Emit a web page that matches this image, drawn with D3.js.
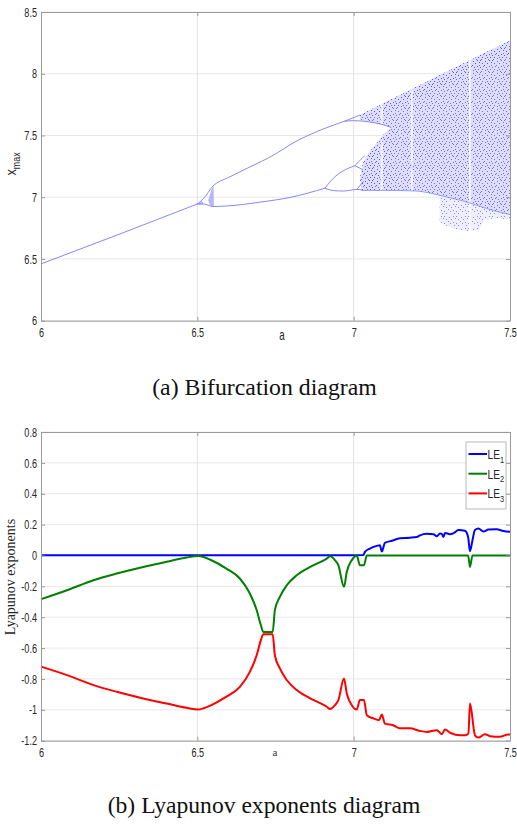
<!DOCTYPE html>
<html><head><meta charset="utf-8">
<script src="https://cdn.jsdelivr.net/npm/d3@7"></script>
<style>
body{margin:0;background:#fff;}
.tk text{font-family:"Liberation Sans",Arial,sans-serif;font-size:13px;fill:#262626;}
</style></head><body>
<svg id="c" width="517" height="825" xmlns="http://www.w3.org/2000/svg"></svg>
<script>
// ---------- DATA ----------
const aTicks = [6, 6.5, 7, 7.5];
const xmaxTicks = [6, 6.5, 7, 7.5, 8, 8.5];
const leTicks = [0.8, 0.6, 0.4, 0.2, 0, -0.2, -0.4, -0.6, -0.8, -1, -1.2];

// bifurcation: periodic branches [a, xmax]
const branchP1 = [[6, 6.46], [6.25, 6.70], [6.5, 6.945]];
const branchUpper = [[6.5, 6.945], [6.52, 6.99], [6.55, 7.09], [6.6, 7.16], [6.66, 7.235], [6.75, 7.35], [6.8, 7.43], [6.9, 7.55], [6.97, 7.615], [7.02, 7.665]];
const branchLower = [[6.5, 6.945], [6.52, 6.945], [6.55, 6.925], [6.6, 6.93], [6.7, 6.96], [6.8, 7.0], [6.908, 7.073]];
const branchP4Up = [[6.908, 7.073], [6.935, 7.16], [6.967, 7.22], [7.004, 7.255]];
const branchP4Lo = [[6.908, 7.073], [6.935, 7.054], [6.967, 7.05], [7.01, 7.063], [7.03, 7.058]];
const branchP8a = [[7.004, 7.255], [7.02, 7.30], [7.035, 7.335]];
const branchP8b = [[7.004, 7.255], [7.02, 7.235], [7.03, 7.22]];
const branchP8c = [[7.01, 7.063], [7.022, 7.10], [7.032, 7.13]];
const lensRight = [[6.97, 7.615], [7.0, 7.62], [7.05, 7.61], [7.09, 7.59], [7.12, 7.565]];
const smallChaos = [[6.535, 6.975], [6.545, 7.06], [6.552, 7.09], [6.553, 6.925], [6.54, 6.935]];
const smallChaos2 = [[6.495, 6.94], [6.515, 6.97], [6.52, 6.945]];
// chaotic region outlines
const chaosTop = [[7.02, 7.665], [7.05, 7.705], [7.1, 7.77], [7.2, 7.895], [7.3, 8.02], [7.4, 8.145], [7.5, 8.27]];
const chaosBottom = [[7.5, 6.86], [7.45, 6.89], [7.4, 6.93], [7.35, 6.97], [7.3, 7.0], [7.25, 7.03], [7.2, 7.05], [7.1, 7.055], [7.025, 7.055]];
const chaosLeft = [[7.025, 7.055], [7.02, 7.15], [7.03, 7.28], [7.05, 7.37], [7.08, 7.46], [7.1, 7.52], [7.12, 7.565], [7.09, 7.59], [7.05, 7.61], [7.02, 7.625]];
const topBandLow = [[7.5, 8.15], [7.4, 8.04], [7.3, 7.93], [7.2, 7.81], [7.1, 7.69], [7.05, 7.65], [7.02, 7.64]];
const leftDense = [[7.025, 7.055], [7.02, 7.15], [7.03, 7.28], [7.05, 7.37], [7.08, 7.46], [7.1, 7.52], [7.12, 7.565], [7.12, 7.055]];
const lobe = [[7.275, 7.01], [7.275, 6.80], [7.3, 6.765], [7.33, 6.74], [7.36, 6.725], [7.4, 6.73], [7.41, 6.78], [7.42, 6.82], [7.46, 6.83], [7.5, 6.82], [7.5, 6.86], [7.45, 6.89], [7.4, 6.93], [7.35, 6.97], [7.3, 7.0]];
const windows = [7.09, 7.186, 7.372];

// Lyapunov exponents [a, value]
const le1 = [[6, 0.002], [6.5, 0.002], [7.0, 0.002], [7.031, 0.003], [7.036, 0.023], [7.052, 0.045], [7.074, 0.062], [7.084, 0.067], [7.09, 0.025], [7.1, 0.082], [7.122, 0.095], [7.148, 0.112], [7.18, 0.115], [7.202, 0.12], [7.212, 0.13], [7.234, 0.14], [7.255, 0.138], [7.266, 0.125], [7.276, 0.142], [7.282, 0.14], [7.287, 0.12], [7.292, 0.146], [7.308, 0.138], [7.32, 0.145], [7.335, 0.165], [7.356, 0.16], [7.366, 0.12], [7.372, 0.028], [7.378, 0.078], [7.388, 0.165], [7.399, 0.175], [7.415, 0.155], [7.431, 0.168], [7.457, 0.17], [7.479, 0.158], [7.5, 0.153]];
const le2 = [[6, -0.283], [6.083, -0.225], [6.168, -0.16], [6.242, -0.117], [6.327, -0.074], [6.402, -0.041], [6.466, -0.013], [6.503, -0.004], [6.52, -0.01], [6.54, -0.026], [6.593, -0.085], [6.636, -0.149], [6.668, -0.246], [6.69, -0.355], [6.703, -0.45], [6.711, -0.495], [6.741, -0.495], [6.748, -0.354], [6.764, -0.268], [6.786, -0.193], [6.818, -0.128], [6.861, -0.074], [6.914, -0.02], [6.925, -0.005], [6.94, -0.03], [6.951, -0.063], [6.969, -0.203], [6.978, -0.106], [6.994, -0.03], [7.01, -0.002], [7.02, -0.063], [7.033, -0.063], [7.042, 0], [7.366, 0], [7.372, -0.074], [7.38, 0], [7.5, 0]];
const le3 = [[6, -0.72], [6.083, -0.775], [6.168, -0.84], [6.242, -0.883], [6.327, -0.926], [6.402, -0.959], [6.466, -0.987], [6.503, -0.998], [6.52, -0.99], [6.54, -0.974], [6.593, -0.915], [6.636, -0.851], [6.668, -0.754], [6.69, -0.645], [6.703, -0.55], [6.711, -0.51], [6.741, -0.51], [6.748, -0.646], [6.764, -0.732], [6.786, -0.807], [6.818, -0.872], [6.861, -0.926], [6.914, -0.98], [6.925, -0.995], [6.94, -0.97], [6.951, -0.937], [6.969, -0.797], [6.978, -0.894], [6.994, -0.97], [7.01, -0.998], [7.02, -0.937], [7.033, -0.937], [7.042, -1.035], [7.065, -1.057], [7.081, -1.067], [7.09, -1.03], [7.1, -1.089], [7.126, -1.1], [7.148, -1.12], [7.18, -1.12], [7.212, -1.137], [7.234, -1.143], [7.266, -1.132], [7.282, -1.158], [7.292, -1.128], [7.31, -1.15], [7.34, -1.165], [7.356, -1.165], [7.367, -1.154], [7.372, -0.959], [7.388, -1.165], [7.399, -1.18], [7.42, -1.158], [7.436, -1.171], [7.468, -1.175], [7.494, -1.16], [7.5, -1.16]];
const leNames = ["1", "2", "3"];
const leColors = ["#0000ff", "#008000", "#ff0000"];

// ---------- DRAW ----------
const SX = 0.7; // horizontal squeeze of the narrow axis font
const svg = d3.select("#c");
const defs = svg.append("defs");
// speckle texture (style only)
const speckPts = [[0,0],[5,1],[9,0],[2,3],[7,3],[11,2],[4,5],[9,6],[0,7],[6,7],[2,9],[10,9],[5,10],[8,11],[1,11],[3,6],[11,5],[7,9]];
function speck(id, bg, dot, n, size, op) {
  const p = defs.append("pattern").attr("id", id).attr("patternUnits", "userSpaceOnUse").attr("width", size).attr("height", size);
  p.append("rect").attr("width", size).attr("height", size).attr("fill", bg);
  speckPts.slice(0, n).forEach(q => p.append("rect").attr("x", q[0]).attr("y", q[1]).attr("width", 1).attr("height", 1).attr("fill", dot).attr("opacity", op));
}
speck("spA", "#dedefc", "#5a5af0", 18, 12, 0.85);
speck("spB", "none", "#5050ee", 12, 12, 0.8);
speck("spC", "#eeeefd", "#7070f2", 12, 12, 0.8);

function frame(g, x, y, yt) {
  const [x0, x1] = x.range(), [y0, y1] = y.range();
  const grid = g.append("g");
  grid.selectAll(".h").data(yt).join("line").attr("x1", x0).attr("x2", x1).attr("y1", d => y(d)).attr("y2", d => y(d)).attr("stroke", "#e8e8e8");
  grid.selectAll(".v").data(aTicks.slice(1, -1)).join("line").attr("y1", y0).attr("y2", y1).attr("x1", d => x(d)).attr("x2", d => x(d)).attr("stroke", "#e2e2e2");
}
function axes(g, x, y, yt) {
  const [x0, x1] = x.range(), [y0, y1] = y.range();
  const ax = g.append("g").attr("class", "tk");
  const bx = ax.append("g").attr("transform", `translate(0,${y0})`).call(d3.axisBottom(x).tickValues(aTicks).tickFormat(d => String(d)).tickSize(-4).tickSizeOuter(0).tickPadding(7));
  bx.selectAll("text").attr("transform", `scale(${SX},1)`);
  const lx = ax.append("g").attr("transform", `translate(${x0},0)`).call(d3.axisLeft(y).tickValues(yt).tickFormat(d => String(d)).tickSize(-4).tickSizeOuter(0).tickPadding(4));
  lx.selectAll("text").attr("x", -4 / SX).attr("transform", `scale(${SX},1)`);
  ax.append("g").attr("transform", `translate(0,${y1})`).call(d3.axisTop(x).tickValues(aTicks).tickFormat("").tickSize(-4).tickSizeOuter(0));
  ax.append("g").attr("transform", `translate(${x1},0)`).call(d3.axisRight(y).tickValues(yt).tickFormat("").tickSize(-4).tickSizeOuter(0));
  ax.selectAll("path.domain").attr("stroke", "#9a9a9a");
  ax.selectAll(".tick line").attr("stroke", "#9a9a9a");
}
const sansN = "'Liberation Sans',Arial,sans-serif";

// ---- Top chart ----
const xA = d3.scaleLinear([6, 7.5], [41, 510]);
const yA = d3.scaleLinear([6, 8.5], [320.7, 12]);
const gA = svg.append("g");
frame(gA, xA, yA, xmaxTicks);
const polyA = pts => pts.map(p => xA(p[0]) + "," + yA(p[1])).join(" ");
const chaosOutline = chaosTop.concat(chaosBottom, chaosLeft);
defs.append("clipPath").attr("id", "chaosClip").append("polygon").attr("points", polyA(chaosOutline.concat(lobe)));
defs.append("clipPath").attr("id", "plotA").append("rect").attr("x", 41).attr("y", 12).attr("width", 469).attr("height", 308.7);
const dataA = gA.append("g").attr("clip-path", "url(#plotA)");
dataA.append("polygon").attr("points", polyA(lobe)).attr("fill", "url(#spC)");
dataA.append("polygon").attr("points", polyA(chaosOutline)).attr("fill", "url(#spA)");
dataA.append("polygon").attr("points", polyA(chaosTop.concat(topBandLow))).attr("fill", "url(#spB)");
dataA.append("polygon").attr("points", polyA(leftDense)).attr("fill", "url(#spB)");
dataA.append("g").attr("clip-path", "url(#chaosClip)").selectAll("rect").data(windows).join("rect")
  .attr("x", d => xA(d) - 1).attr("width", 2).attr("y", 12).attr("height", 308.7).attr("fill", "#fff").attr("opacity", 0.75);
dataA.append("polygon").attr("points", polyA(smallChaos)).attr("fill", "#9a9af7").attr("opacity", 0.7);
dataA.append("polygon").attr("points", polyA(smallChaos2)).attr("fill", "#9a9af7").attr("opacity", 0.7);
const lineA = d3.line().x(d => xA(d[0])).y(d => yA(d[1])).curve(d3.curveMonotoneX);
const lineAb = d3.line().x(d => xA(d[0])).y(d => yA(d[1])).curve(d3.curveBasis);
dataA.selectAll(".br").data([branchP1, branchUpper, branchLower, branchP4Lo, branchP8b, lensRight]).join("path")
  .attr("d", lineA).attr("fill", "none").attr("stroke", "#7a7af5").attr("stroke-width", 0.9);
dataA.selectAll(".br2").data([branchP4Up, branchP8a, branchP8c]).join("path")
  .attr("d", lineAb).attr("fill", "none").attr("stroke", "#7a7af5").attr("stroke-width", 0.9);
dataA.append("path").attr("d", lineA(chaosBottom.slice().reverse())).attr("fill", "none").attr("stroke", "#6a6af2").attr("stroke-width", 1).attr("opacity", 0.6);
axes(gA, xA, yA, xmaxTicks);
gA.append("text").attr("transform", `translate(282,340) scale(${SX},1)`).attr("text-anchor", "middle")
  .style("font-family", sansN).style("font-size", "14px").attr("fill", "#262626").text("a");
const yl = gA.append("text").attr("transform", `translate(16,164) rotate(-90) scale(0.85,1)`).attr("text-anchor", "middle")
  .style("font-family", sansN).style("font-size", "15px").attr("fill", "#262626");
yl.append("tspan").text("x");
yl.append("tspan").attr("dy", 4).style("font-size", "10.5px").text("max");

svg.append("text").attr("x", 264.5).attr("y", 395).attr("text-anchor", "middle")
  .style("font-family", "'Liberation Serif','Times New Roman',serif").style("font-size", "23.8px").attr("fill", "#111").text("(a) Bifurcation diagram");

// ---- Bottom chart ----
const xB = d3.scaleLinear([6, 7.5], [41, 510]);
const yB = d3.scaleLinear([-1.2, 0.8], [740.7, 432]);
const gB = svg.append("g");
frame(gB, xB, yB, leTicks);
const lineB = d3.line().x(d => xB(d[0])).y(d => yB(d[1])).curve(d3.curveMonotoneX);
gB.selectAll(".le").data([le1, le2, le3]).join("path").attr("d", lineB).attr("fill", "none")
  .attr("stroke", (d, i) => leColors[i]).attr("stroke-width", 2).attr("stroke-linejoin", "round");
axes(gB, xB, yB, leTicks);
gB.append("text").attr("x", 275).attr("y", 756).attr("text-anchor", "middle")
  .style("font-family", "'Liberation Serif',serif").style("font-size", "11px").attr("fill", "#333").text("a");
gB.append("text").attr("transform", "translate(15,577) rotate(-90)").attr("text-anchor", "middle")
  .style("font-family", "'Liberation Serif',serif").style("font-size", "14px").attr("fill", "#262626").text("Lyapunov exponents");
// legend
const lg = gB.append("g");
lg.append("rect").attr("x", 466).attr("y", 442).attr("width", 40).attr("height", 67).attr("fill", "#fff").attr("stroke", "#a6a6a6").attr("stroke-width", 0.8);
const items = lg.selectAll(".it").data(leNames).join("g").attr("transform", (d, i) => `translate(0,${454 + i * 19.7})`);
items.append("line").attr("x1", 468.5).attr("x2", 487).attr("stroke", (d, i) => leColors[i]).attr("stroke-width", 2);
const lt = items.append("text").attr("transform", `translate(487.5,5) scale(0.78,1)`).style("font-family", sansN).style("font-size", "13px").attr("fill", "#262626");
lt.append("tspan").text("LE");
lt.append("tspan").attr("dy", 3.5).style("font-size", "9.5px").text(d => d);

svg.append("text").attr("x", 264).attr("y", 813).attr("text-anchor", "middle")
  .style("font-family", "'Liberation Serif','Times New Roman',serif").style("font-size", "23.6px").attr("fill", "#111").text("(b) Lyapunov exponents diagram");
</script></body></html>
